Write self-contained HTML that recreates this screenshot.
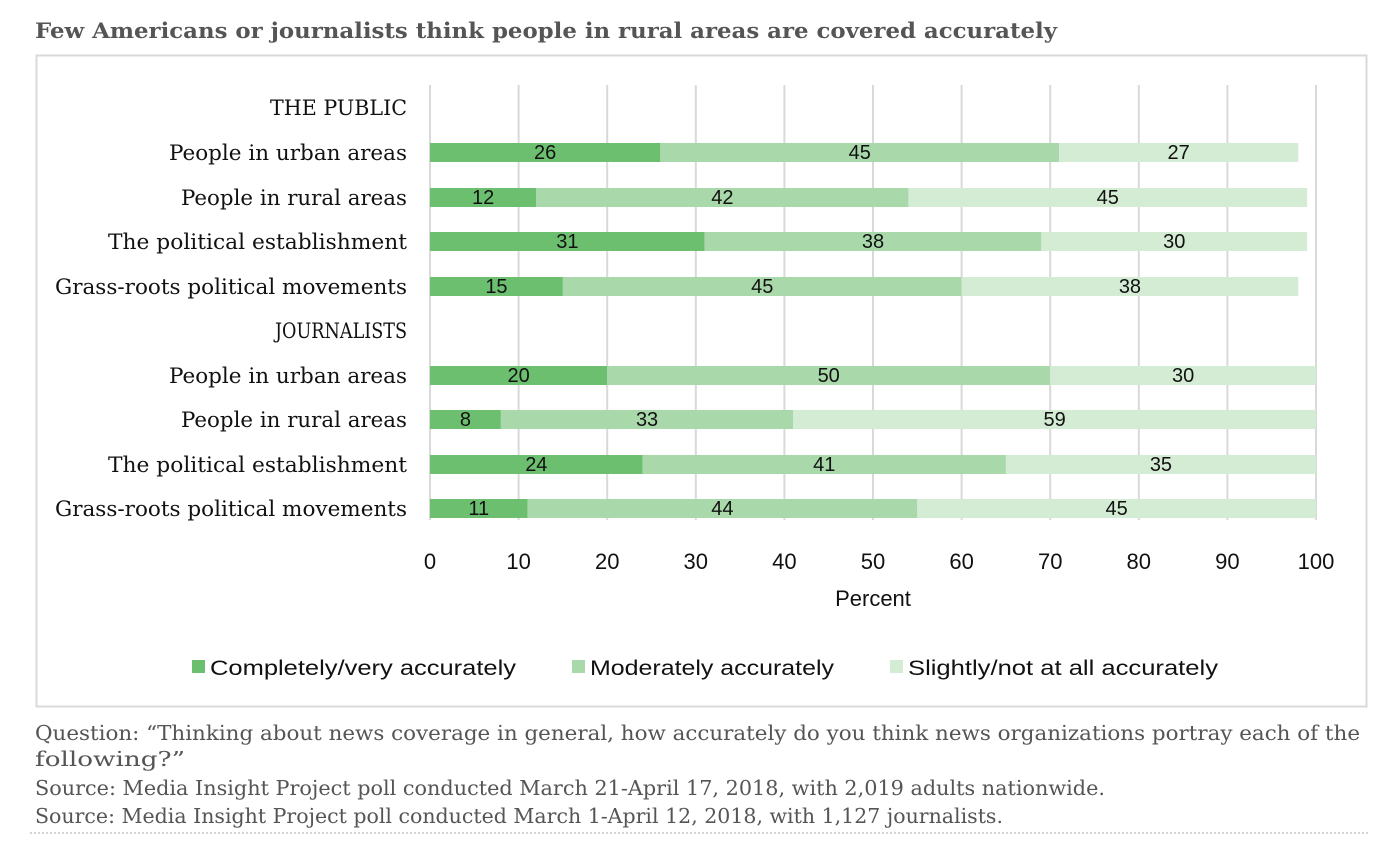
<!DOCTYPE html>
<html><head><meta charset="utf-8"><style>
html,body{margin:0;padding:0;background:#fff;width:1400px;height:862px;overflow:hidden}
svg{display:block}
</style></head><body>
<svg width="1400" height="862" xmlns="http://www.w3.org/2000/svg">
<text x="35" y="38" font-family="DejaVu Serif, serif" font-weight="bold" font-size="21" fill="#555" textLength="1022" lengthAdjust="spacingAndGlyphs">Few Americans or journalists think people in rural areas are covered accurately</text>
<rect x="36.5" y="55.5" width="1330" height="651" fill="#fff" stroke="#d9d9d9" stroke-width="2"/>
<g stroke="#d9d9d9" stroke-width="2">
<line x1="430" y1="85" x2="430" y2="520"/><line x1="518.6" y1="85" x2="518.6" y2="520"/><line x1="607.2" y1="85" x2="607.2" y2="520"/><line x1="695.8" y1="85" x2="695.8" y2="520"/><line x1="784.4" y1="85" x2="784.4" y2="520"/><line x1="873" y1="85" x2="873" y2="520"/><line x1="961.6" y1="85" x2="961.6" y2="520"/><line x1="1050.2" y1="85" x2="1050.2" y2="520"/><line x1="1138.8" y1="85" x2="1138.8" y2="520"/><line x1="1227.4" y1="85" x2="1227.4" y2="520"/><line x1="1316" y1="85" x2="1316" y2="520"/>
</g>
<g font-family="DejaVu Serif, serif" font-size="21.5" fill="#111">
<text x="270" y="115" textLength="137" lengthAdjust="spacingAndGlyphs">THE PUBLIC</text>
<text x="169" y="160" textLength="238" lengthAdjust="spacingAndGlyphs">People in urban areas</text>
<text x="181" y="205" textLength="226" lengthAdjust="spacingAndGlyphs">People in rural areas</text>
<text x="108" y="249" textLength="299" lengthAdjust="spacingAndGlyphs">The political establishment</text>
<text x="55" y="294" textLength="352" lengthAdjust="spacingAndGlyphs">Grass-roots political movements</text>
<text x="275" y="338" textLength="132" lengthAdjust="spacingAndGlyphs">JOURNALISTS</text>
<text x="169" y="383" textLength="238" lengthAdjust="spacingAndGlyphs">People in urban areas</text>
<text x="181" y="427" textLength="226" lengthAdjust="spacingAndGlyphs">People in rural areas</text>
<text x="108" y="472" textLength="299" lengthAdjust="spacingAndGlyphs">The political establishment</text>
<text x="55" y="516" textLength="352" lengthAdjust="spacingAndGlyphs">Grass-roots political movements</text>
</g>
<g id="bars" font-family="Liberation Sans, sans-serif" font-size="20" fill="#111" text-anchor="middle"></g>
<g font-family="Liberation Sans, sans-serif" font-size="22" fill="#111" text-anchor="middle">
<text x="430" y="569">0</text><text x="518.6" y="569">10</text><text x="607.2" y="569">20</text><text x="695.8" y="569">30</text><text x="784.4" y="569">40</text><text x="873" y="569">50</text><text x="961.6" y="569">60</text><text x="1050.2" y="569">70</text><text x="1138.8" y="569">80</text><text x="1227.4" y="569">90</text><text x="1316" y="569">100</text>
<text x="873" y="606">Percent</text>
</g>
<g font-family="Liberation Sans, sans-serif" font-size="21" fill="#111">
<rect x="192" y="660" width="13" height="13" fill="#6dbf70"/><text x="210" y="675" textLength="306" lengthAdjust="spacingAndGlyphs">Completely/very accurately</text>
<rect x="572" y="660" width="13" height="13" fill="#a9d8aa"/><text x="590" y="675" textLength="244" lengthAdjust="spacingAndGlyphs">Moderately accurately</text>
<rect x="890" y="660" width="13" height="13" fill="#d4ecd4"/><text x="908" y="675" textLength="310" lengthAdjust="spacingAndGlyphs">Slightly/not at all accurately</text>
</g>
<g font-family="DejaVu Serif, serif" font-size="20.5" fill="#555">
<text x="35" y="740" textLength="1325" lengthAdjust="spacingAndGlyphs">Question: “Thinking about news coverage in general, how accurately do you think news organizations portray each of the</text>
<text x="35" y="766" textLength="150" lengthAdjust="spacingAndGlyphs">following?”</text>
<text x="35" y="795" textLength="1070" lengthAdjust="spacingAndGlyphs">Source: Media Insight Project poll conducted March 21-April 17, 2018, with 2,019 adults nationwide.</text>
<text x="35" y="823" textLength="968" lengthAdjust="spacingAndGlyphs">Source: Media Insight Project poll conducted March 1-April 12, 2018, with 1,127 journalists.</text>
</g>
<line x1="30" y1="833" x2="1370" y2="833" stroke="#aaa" stroke-width="1" stroke-dasharray="2,2"/>
</svg>
<script>
var d=[[152,26,45,27],[197,12,42,45],[241,31,38,30],[286,15,45,38],[375,20,50,30],[419,8,33,59],[464,24,41,35],[508,11,44,45]];
var c=["#6dbf70","#a9d8aa","#d4ecd4"],g=document.getElementById('bars'),s='';
d.forEach(function(r){var x=430;for(var i=1;i<4;i++){var w=r[i]*8.86;
s+='<rect x="'+x+'" y="'+(r[0]-9)+'" width="'+w+'" height="19" fill="'+c[i-1]+'"/>';
s+='<text x="'+(x+w/2)+'" y="'+(r[0]+7)+'">'+r[i]+'</text>';x+=w;}});
g.innerHTML=s;
</script>
</body></html>
